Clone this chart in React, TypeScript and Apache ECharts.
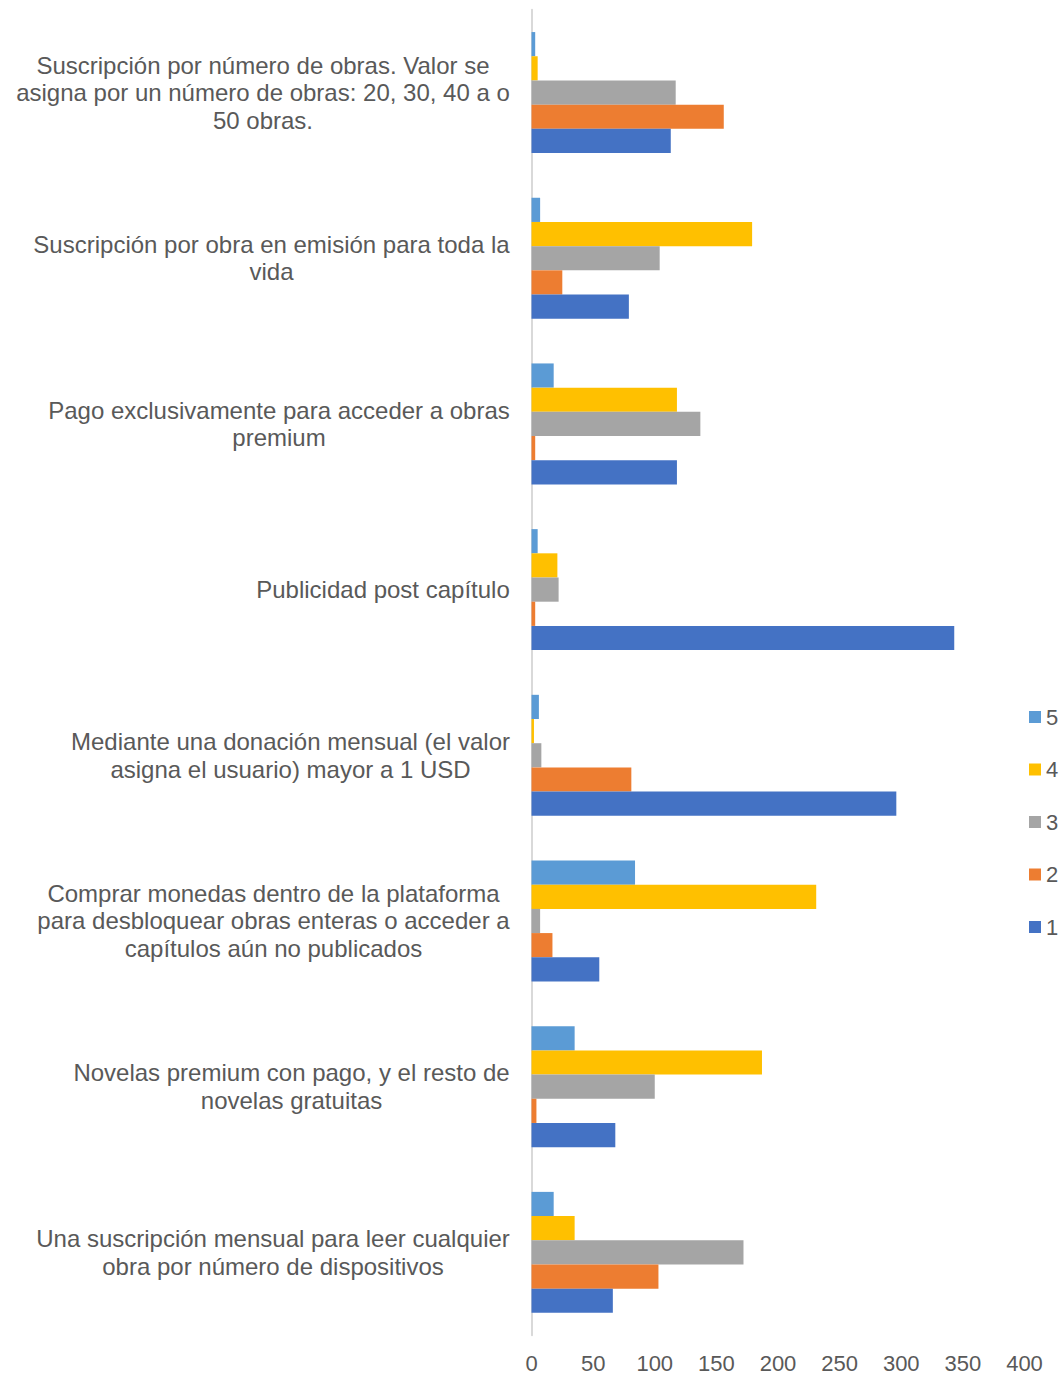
import React, { useEffect, useRef } from "react";
import * as echarts from "echarts";

const categories: string[] = [
  "Suscripción por número de obras. Valor se\nasigna por un número de obras: 20, 30, 40 a o\n50 obras.",
  "Suscripción por obra en emisión para toda la\nvida",
  "Pago exclusivamente para acceder a obras\npremium",
  "Publicidad post capítulo",
  "Mediante una donación mensual (el valor\nasigna el usuario) mayor a 1 USD",
  "Comprar monedas dentro de la plataforma\npara desbloquear obras enteras o acceder a\ncapítulos aún no publicados",
  "Novelas premium con pago, y el resto de\nnovelas gratuitas",
  "Una suscripción mensual para leer cualquier\nobra por número de dispositivos",
];

const seriesNames = ["5", "4", "3", "2", "1"];
const values5 = [3, 7, 18, 5, 6, 84, 35, 18];
const values4 = [5, 179, 118, 21, 2, 231, 187, 35];
const values3 = [117, 104, 137, 22, 8, 7, 100, 172];
const values2 = [156, 25, 3, 3, 81, 17, 4, 103];
const values1 = [113, 79, 118, 343, 296, 55, 68, 66];
const seriesValues = [values5, values4, values3, values2, values1];
const colors = ["#5B9BD5", "#FFC000", "#A5A5A5", "#ED7D31", "#4472C4"];

const xTicks = { min: 0, max: 400, interval: 50 };

const FONT = '"Liberation Sans", Arial, sans-serif';
const Y_FS = 24;
const Y_LH = 27.5;

export default function App() {
  const ref = useRef<HTMLDivElement>(null);
  useEffect(() => {
    if (!ref.current) return;
    const chart = echarts.init(ref.current, undefined, { renderer: "svg" });
    const canvas = document.createElement("canvas");
    const ctx = canvas.getContext("2d")!;
    ctx.font = `${Y_FS}px "Liberation Sans"`;
    const rich: Record<string, any> = {};
    categories.forEach((c, i) => {
      const w = Math.max(...c.split("\n").map((l) => ctx.measureText(l).width));
      rich["r" + i] = {
        width: Math.ceil(w) + 1,
        align: "center",
        fontSize: Y_FS,
        lineHeight: Y_LH,
        color: "#595959",
        fontFamily: FONT,
      };
    });
    chart.setOption({
      animation: false,
      grid: { left: 531.5, top: 9.7, width: 493, height: 1325.5 },
      legend: {
        orient: "vertical",
        left: 1029,
        top: 706,
        padding: 0,
        icon: "rect",
        itemWidth: 12,
        itemHeight: 12,
        itemGap: 30.5,
        data: seriesNames,
        textStyle: { fontSize: 22, lineHeight: 22, color: "#595959", fontFamily: FONT },
        selectedMode: false,
      },
      xAxis: {
        type: "value",
        min: xTicks.min,
        max: xTicks.max,
        interval: xTicks.interval,
        axisLine: { show: false },
        axisTick: { show: false },
        splitLine: { show: false },
        axisLabel: { fontSize: 22, color: "#595959", fontFamily: FONT, margin: 17 },
      },
      yAxis: {
        type: "category",
        inverse: true,
        data: categories,
        axisLine: { show: true, lineStyle: { color: "#D9D9D9", width: 2 } },
        axisTick: { show: false },
        axisLabel: {
          interval: 0,
          margin: 21,
          align: "right",
          formatter: (v: string, i: number) =>
            v.split("\n").map((l) => `{r${i}|${l}}`).join("\n"),
          rich,
        },
      },
      series: seriesNames.map((n, k) => ({
        name: n,
        type: "bar",
        data: seriesValues[k],
        itemStyle: { color: colors[k] },
        barGap: "0%",
        barCategoryGap: "27%",
      })),
    });
    return () => chart.dispose();
  }, []);
  return (
    <div
      ref={ref}
      style={{ position: "absolute", left: 0, top: 0, width: 1062, height: 1375 }}
    />
  );
}
